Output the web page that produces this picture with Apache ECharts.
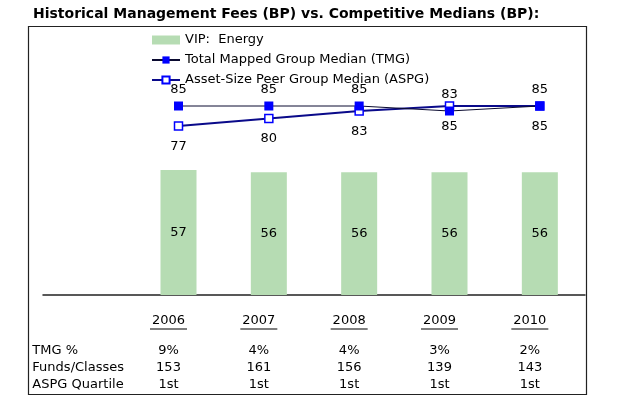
<!DOCTYPE html>
<html>
<head>
<meta charset="utf-8">
<script src="https://cdn.jsdelivr.net/npm/echarts@6/dist/echarts.min.js"></script>
<style>html,body{margin:0;padding:0;background:#fff;}#c{width:638px;height:417px;}</style>
</head>
<body>
<div id="c"></div>
<script>
var years = ['2006', '2007', '2008', '2009', '2010'];
var vipFees = [57, 56, 56, 56, 56];
var tmgMedian = [85, 85, 85, 83, 85];
var aspgMedian = [77, 80, 83, 85, 85];
var tmgPct = ['9%', '4%', '4%', '3%', '2%'];
var fundsClasses = ['153', '161', '156', '139', '143'];
var aspgQuartile = ['1st', '1st', '1st', '1st', '1st'];
var rowLabels = ['TMG %', 'Funds/Classes', 'ASPG Quartile'];

var FONT = 'DejaVu Sans';
var cats = [''].concat(years);
function pad(a) { return [null].concat(a); }

var chart = echarts.init(document.getElementById('c'), null, {renderer: 'canvas'});
chart.setOption({
  animation: false,
  backgroundColor: '#fff',
  title: {
    text: 'Historical Management Fees (BP) vs. Competitive Medians (BP):',
    left: 33, top: 7, padding: 0,
    textStyle: {fontFamily: FONT, fontSize: 14, fontWeight: 'bold', color: '#000'}
  },
  graphic: [{
    type: 'rect', z: 0, silent: true,
    shape: {x: 28.5, y: 26.5, width: 558, height: 368},
    style: {fill: 'none', stroke: '#222', lineWidth: 1.2}
  }],
  legend: {
    orient: 'vertical', left: 151, top: 30, padding: 0,
    itemWidth: 28, itemHeight: 9, itemGap: 0,
    textStyle: {fontFamily: FONT, fontSize: 13, color: '#000', lineHeight: 20},
    data: [
      {name: 'VIP:  Energy', icon: 'rect'},
      'Total Mapped Group Median (TMG)',
      'Asset-Size Peer Group Median (ASPG)'
    ]
  },
  grid: {left: 43, right: 53, top: 26, bottom: 122, containLabel: false},
  xAxis: {
    type: 'category', data: cats,
    axisLine: {lineStyle: {color: '#222', width: 1.5}},
    axisTick: {show: false},
    axisLabel: {
      interval: 0, margin: 19, padding: [0, 20, 0, 0],
      fontFamily: FONT, fontSize: 13, color: '#000',
      formatter: function (v, i) {
        if (i === 0) {
          return '{y| }\n{u2| }\n{s| }\n' + rowLabels.map(function (r) { return '{l|' + r + '}'; }).join('\n');
        }
        var k = i - 1;
        return '{y|' + years[k] + '}\n{u|}\n{s| }\n{r|' + tmgPct[k] + '}\n{r|' + fundsClasses[k] + '}\n{r|' + aspgQuartile[k] + '}';
      },
      rich: {
        y: {fontFamily: FONT, fontSize: 13, color: '#000', lineHeight: 14, align: 'center'},
        u: {width: 37, height: 1, lineHeight: 2, backgroundColor: '#000', fontSize: 1, align: 'center'},
        u2: {height: 1, lineHeight: 2, fontSize: 1},
        s: {fontSize: 1, lineHeight: 12.5},
        r: {fontFamily: FONT, fontSize: 13, color: '#000', lineHeight: 17, align: 'center'},
        l: {fontFamily: FONT, fontSize: 13, color: '#000', lineHeight: 17, align: 'left'}
      }
    }
  },
  yAxis: [
    {type: 'value', min: 0, max: 122.6, show: false, splitLine: {show: false}},
    {type: 'value', min: 9.4, max: 117, show: false, splitLine: {show: false}}
  ],
  series: [
    {
      name: 'VIP:  Energy', type: 'bar', yAxisIndex: 0, barWidth: 36,
      data: pad(vipFees),
      itemStyle: {color: '#b6dcb3'},
      label: {show: true, position: 'inside', fontFamily: FONT, fontSize: 13, color: '#000'}
    },
    {
      name: 'Asset-Size Peer Group Median (ASPG)', type: 'line', yAxisIndex: 1,
      data: pad(aspgMedian),
      symbol: 'rect', symbolSize: 8, showAllSymbol: true,
      lineStyle: {color: '#0a0a8a', width: 2},
      itemStyle: {color: '#fff', borderColor: '#0000ff', borderWidth: 1.5},
      label: {show: true, position: 'bottom', distance: 9, fontFamily: FONT, fontSize: 13, color: '#000'}
    },
    {
      name: 'Total Mapped Group Median (TMG)', type: 'line', yAxisIndex: 1,
      data: pad(tmgMedian),
      symbol: 'rect', symbolSize: 9, showAllSymbol: true,
      lineStyle: {color: '#0a0a30', width: 1},
      itemStyle: {color: '#0000ff'},
      label: {show: true, position: 'top', distance: 5, fontFamily: FONT, fontSize: 13, color: '#000'}
    }
  ]
});
</script>
</body>
</html>
